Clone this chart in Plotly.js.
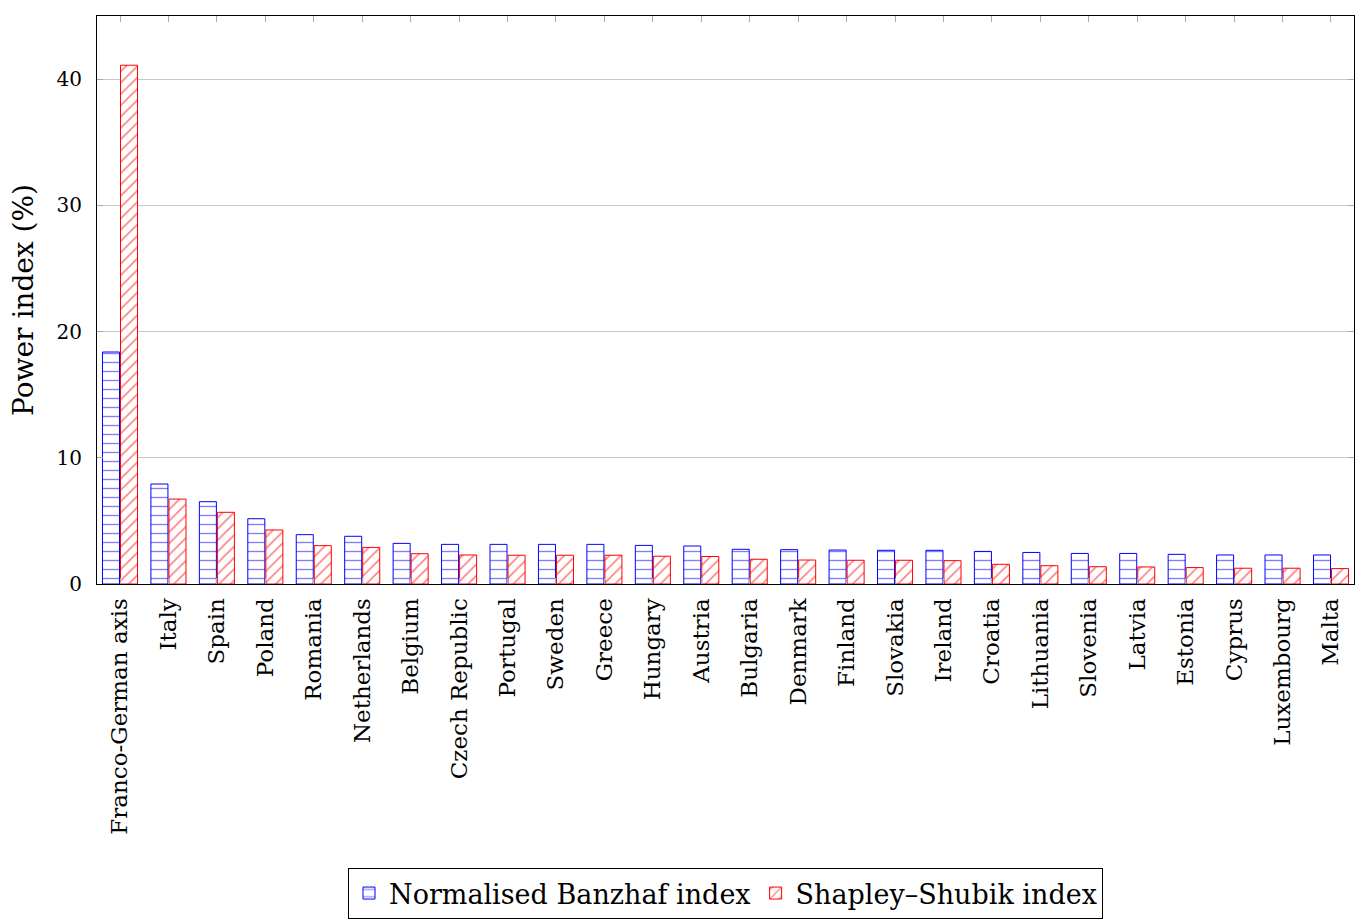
<!DOCTYPE html>
<html>
<head>
<meta charset="utf-8">
<script src="https://cdn.plot.ly/plotly-3.0.1.min.js"></script>
<style>html,body{margin:0;padding:0;background:#fff;}</style>
</head>
<body>
<div id="chart" style="width:1362px;height:924px;"></div>
<script>
const categories = ["Franco-German axis","Italy","Spain","Poland","Romania","Netherlands","Belgium","Czech Republic","Portugal","Sweden","Greece","Hungary","Austria","Bulgaria","Denmark","Finland","Slovakia","Ireland","Croatia","Lithuania","Slovenia","Latvia","Estonia","Cyprus","Luxembourg","Malta"];
const banzhaf = [18.38,7.92,6.52,5.17,3.91,3.78,3.22,3.14,3.14,3.14,3.14,3.06,3.01,2.75,2.72,2.69,2.67,2.67,2.58,2.50,2.42,2.42,2.35,2.30,2.30,2.30];
const shapley = [41.1,6.73,5.68,4.28,3.04,2.90,2.40,2.30,2.28,2.28,2.28,2.20,2.18,1.96,1.90,1.88,1.88,1.85,1.56,1.45,1.37,1.35,1.30,1.25,1.25,1.22];
const yTicks = [0,10,20,30,40];

const font = "'DejaVu Serif', 'Liberation Serif', serif";

const traces = [
  {
    type: 'bar', name: 'Normalised Banzhaf index', x: categories, y: banzhaf,
    marker: {color: 'white', line: {color: 'blue', width: 1},
      pattern: {shape: '-', fgcolor: 'blue', bgcolor: 'white', size: 9, solidity: 0.15, fillmode: 'overlay'}}
  },
  {
    type: 'bar', name: 'Shapley–Shubik index', x: categories, y: shapley,
    marker: {color: 'white', line: {color: 'red', width: 1},
      pattern: {shape: '/', fgcolor: 'red', bgcolor: 'white', size: 8, solidity: 0.2, fillmode: 'overlay'}}
  }
];

const layout = {
  width: 1362, height: 924,
  margin: {l: 97, r: 8, t: 16, b: 340},
  paper_bgcolor: 'white', plot_bgcolor: 'white',
  font: {family: font, size: 20, color: 'black'},
  barmode: 'group', bargap: 0.256, bargroupgap: 0.055,
  showlegend: true,
  legend: {orientation: 'h', xref: 'paper', x: 0.5, xanchor: 'center',
    yref: 'container', y: 0.0606, yanchor: 'top',
    bordercolor: 'black', borderwidth: 1, font: {family: font, size: 27}, bgcolor: 'white',
    itemwidth: 30},
  xaxis: {
    type: 'category', range: [-0.475, 25.475], tickangle: -90,
    showline: true, linecolor: 'black', linewidth: 1, mirror: 'ticks',
    ticks: 'inside', ticklen: 6, tickcolor: '#aaa',
    showgrid: false, tickfont: {size: 23}, automargin: false, ticklabelstandoff: 4
  },
  yaxis: {
    range: [0, 45], tickvals: yTicks, ticktext: yTicks.map(String),
    showline: true, linecolor: 'black', linewidth: 1, mirror: 'ticks',
    ticks: 'inside', ticklen: 6, tickcolor: '#aaa',
    showgrid: true, gridcolor: '#c8c8c8', gridwidth: 1, zeroline: false,
    tickfont: {size: 20}, ticklabelstandoff: 10,
    title: {text: 'Power index (%)', font: {size: 28}, standoff: 14}, automargin: false
  }
};

Plotly.newPlot('chart', traces, layout, {displayModeBar: false, staticPlot: true});
</script>
</body>
</html>
